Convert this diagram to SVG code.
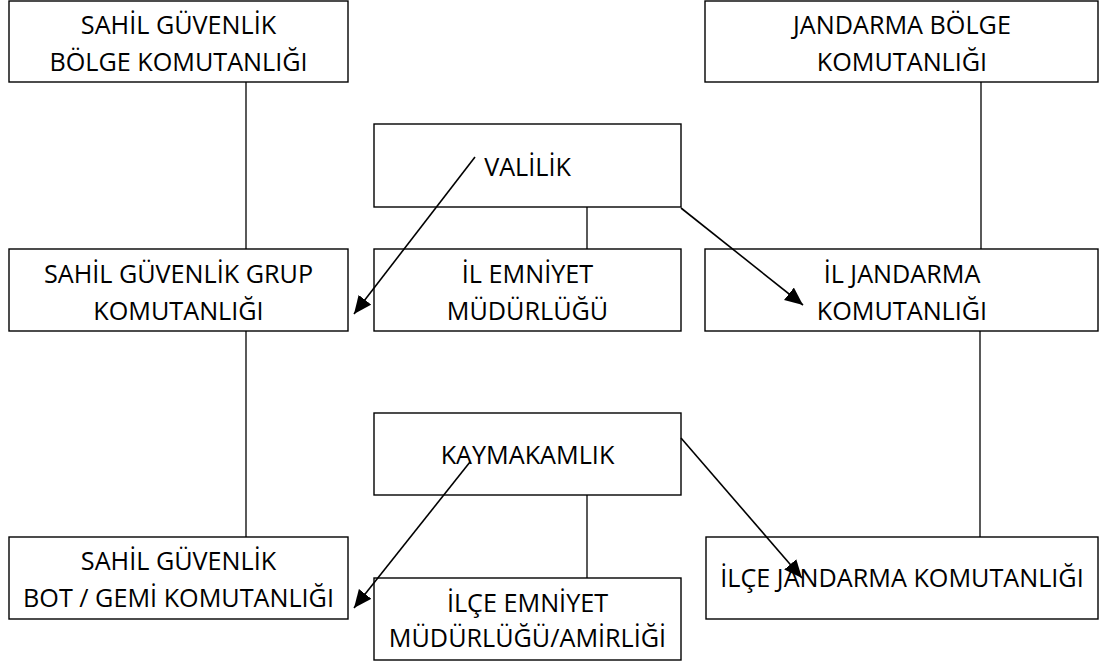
<svg xmlns="http://www.w3.org/2000/svg" width="1099" height="666" viewBox="0 0 1099 666">
<style>
.box{fill:#fff;stroke:#000;stroke-width:1.4}
.t{font-family:"Open Sans","Liberation Sans",sans-serif;font-size:25.2px;fill:#000;text-anchor:middle}
.ln{stroke:#000;stroke-width:1.3;fill:none}
.ar{stroke:#000;stroke-width:1.6;fill:none;marker-end:url(#ah)}
</style>
<defs>
<marker id="ah" markerUnits="userSpaceOnUse" markerWidth="20" markerHeight="16" refX="18" refY="8" orient="auto">
<path d="M0,0 L18,8 L0,16 Z" fill="#000"/>
</marker>
</defs>
<rect width="1099" height="666" fill="#fff"/>
<g id="connectors">
<line class="ln" x1="246" y1="82" x2="246" y2="249"/>
<line class="ln" x1="246" y1="331" x2="246" y2="537"/>
<line class="ln" x1="981" y1="82" x2="981" y2="249"/>
<line class="ln" x1="980" y1="331" x2="980" y2="537"/>
<line class="ln" x1="587" y1="207" x2="587" y2="249"/>
<line class="ln" x1="587" y1="495" x2="587" y2="578"/>
</g>
<g id="n1"><rect class="box" x="9" y="1" width="339" height="81"/>
<text class="t" x="178.5" y="34">SAHİL GÜVENLİK</text><text class="t" x="178.5" y="71">BÖLGE KOMUTANLIĞI</text></g>
<g id="n2"><rect class="box" x="705" y="1" width="393" height="81"/>
<text class="t" x="902" y="34">JANDARMA BÖLGE</text><text class="t" x="902" y="71">KOMUTANLIĞI</text></g>
<g id="n3"><rect class="box" x="374" y="124" width="307" height="83"/>
<text class="t" x="527.5" y="176">VALİLİK</text></g>
<g id="n4"><rect class="box" x="9" y="249" width="339" height="82"/>
<text class="t" x="178.5" y="283">SAHİL GÜVENLİK GRUP</text><text class="t" x="178.5" y="320">KOMUTANLIĞI</text></g>
<g id="n5"><rect class="box" x="374" y="249" width="307" height="82"/>
<text class="t" x="527.5" y="283">İL EMNİYET</text><text class="t" x="527.5" y="320">MÜDÜRLÜĞÜ</text></g>
<g id="n6"><rect class="box" x="705" y="249" width="393" height="82"/>
<text class="t" x="902" y="283">İL JANDARMA</text><text class="t" x="902" y="320">KOMUTANLIĞI</text></g>
<g id="n7"><rect class="box" x="374" y="413" width="307" height="82"/>
<text class="t" x="527.5" y="464">KAYMAKAMLIK</text></g>
<g id="n8"><rect class="box" x="9" y="537" width="339" height="82"/>
<text class="t" x="178.5" y="570">SAHİL GÜVENLİK</text><text class="t" x="178.5" y="607">BOT / GEMİ KOMUTANLIĞI</text></g>
<g id="n9"><rect class="box" x="374" y="578" width="307" height="82"/>
<text class="t" x="527.5" y="612">İLÇE EMNİYET</text><text class="t" x="527.5" y="647">MÜDÜRLÜĞÜ/AMİRLİĞİ</text></g>
<g id="n10"><rect class="box" x="706" y="537" width="392" height="82"/>
<text class="t" x="902" y="587">İLÇE JANDARMA KOMUTANLIĞI</text></g>
<g id="arrows">
<line class="ar" x1="475" y1="157" x2="354" y2="314"/>
<line class="ar" x1="681" y1="208" x2="803" y2="305"/>
<line class="ar" x1="470" y1="462" x2="354" y2="608"/>
<line class="ar" x1="681" y1="438" x2="802" y2="578"/>
</g>
</svg>
